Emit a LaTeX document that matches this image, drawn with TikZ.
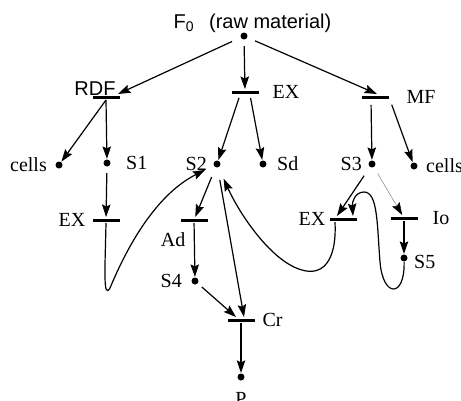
\documentclass[tikz,border=0pt]{standalone}
\usepackage{fontspec}
\setmainfont{Liberation Serif}
\setsansfont{Liberation Sans}
\usetikzlibrary{arrows.meta,positioning}

\begin{document}
\begin{tikzpicture}[x=1pt, y=-1pt, >={Stealth[length=12.5pt,width=8.5pt,inset=2pt]}, line width=1.2pt,
  dot/.style={circle, fill, inner sep=0pt, minimum size=7pt},
  bar/.style={fill, inner sep=0pt, outer sep=1.5pt, minimum width=27pt, minimum height=3pt},
  lbl/.style={inner sep=0pt, font=\fontsize{20}{24}\selectfont},
  sans/.style={inner sep=0pt, font=\fontsize{20}{24}\selectfont\sffamily},
  every label/.style={lbl}]
\useasboundingbox (0,0) rectangle (461,400);

% places and transitions
\node[dot] (f0) at (244,36) {};
\node[sans, anchor=base west] (f0lbl) at (173,28) {F\textsubscript{0}\hspace{15pt}(raw material)};
\node[sans, anchor=base] (rdflbl) at (95,95) {RDF};
\node[bar] (rdf) at (106,97) {};
\node[bar, label={[label distance=12pt]right:EX}] (exA) at (245,92) {};
\node[bar, label={[label distance=16pt]right:MF}] (mf) at (375,97) {};
\node[dot, label={[label distance=7.5pt]left:cells}] (cellsL) at (59,165) {};
\node[dot, label={[label distance=14.5pt]right:S1}] (s1) at (107,163) {};
\node[dot, label={[label distance=5.5pt]left:S2}] (s2) at (217,164) {};
\node[dot, label={[label distance=9.5pt]right:Sd}] (sd) at (263,164) {};
\node[dot, label={[label distance=5.5pt]left:S3}] (s3) at (372,164) {};
\node[dot, label={[label distance=7.5pt]right:cells}] (cellsR) at (414,166) {};
\node[bar, label={[label distance=5pt]left:EX}] (exB) at (106,220) {};
\node[bar] (ad) at (194,220) {};
\node[lbl, anchor=north east] (adlbl) at ([xshift=7pt,yshift=-9pt]ad.south west) {Ad};
\node[bar, label={[label distance=2pt]left:EX}] (exC) at (343,219) {};
\node[bar, label={[label distance=13pt]right:Io}] (io) at (404,218) {};
\node[dot, label={[label distance=8.5pt]left:S4}] (s4) at (195,281) {};
\node[dot, label={[label distance=5.5pt, yshift=-4pt]right:S5}] (s5) at (404,258) {};
\node[bar, label={[label distance=6pt]right:Cr}] (cr) at (241,320) {};
\node[dot, label={[label distance=11pt]below:P}] (p) at (241,377) {};

% arcs
\draw[->, shorten <=9pt] (f0) -- ([xshift=-3pt]rdf.north east);
\draw[->, shorten <=6pt] (f0) -- (exA);
\draw[->, shorten <=8pt] (f0) -- ([xshift=2pt]mf.north);
\draw[->] (rdf.south) -- (cellsL);
\draw[->] (rdf.south) -- (s1);
\draw[->, shorten <=3pt] ([xshift=-5pt]exA.south) -- (s2);
\draw[->, shorten <=3pt] ([xshift=5pt]exA.south) -- (sd);
\draw[->, shorten <=5pt] ([xshift=-4pt]mf.south) -- (s3);
\draw[->, shorten <=5pt] ([xshift=15pt]mf.south) -- (cellsR);
\draw[->, shorten <=6pt] (s1) -- (exB);
\draw[->, shorten <=10pt] (s2) -- (ad);
\draw[->, shorten <=12pt] (s2) -- ([xshift=3pt]cr.north);
\draw[->] (ad) -- (s4);
\draw[->, shorten <=5pt] (s4) -- ([xshift=-5pt]cr.north);
\draw[->] (cr) -- (p);
\draw[->, shorten <=10pt] (s3) -- ([xshift=-6pt]exC.north);
\draw[draw=gray, line width=0.5pt, -{Stealth[length=12.5pt,width=8.5pt,inset=2pt,black]}, shorten <=7pt] (s3) -- (io);
\draw[->] (io) -- (s5);

% feedback curves
\draw[->, shorten >=9pt] (exB.south) .. controls (105,270) and (103,300) .. (110,288)
  .. controls (135,228) and (165,190) .. (s2);
\draw[->, shorten >=12pt] ([xshift=-8pt]exC.south) .. controls (337,262) and (322,276) .. (302,270)
  .. controls (272,262) and (240,215) .. (s2);
\draw[->] (s5) .. controls (405,298) and (383,298) .. (380,262)
  .. controls (377,225) and (378,192) .. (364,192)
  .. controls (355,192) and (352,202) .. ([xshift=10pt]exC.north);
\end{tikzpicture}
\end{document}
